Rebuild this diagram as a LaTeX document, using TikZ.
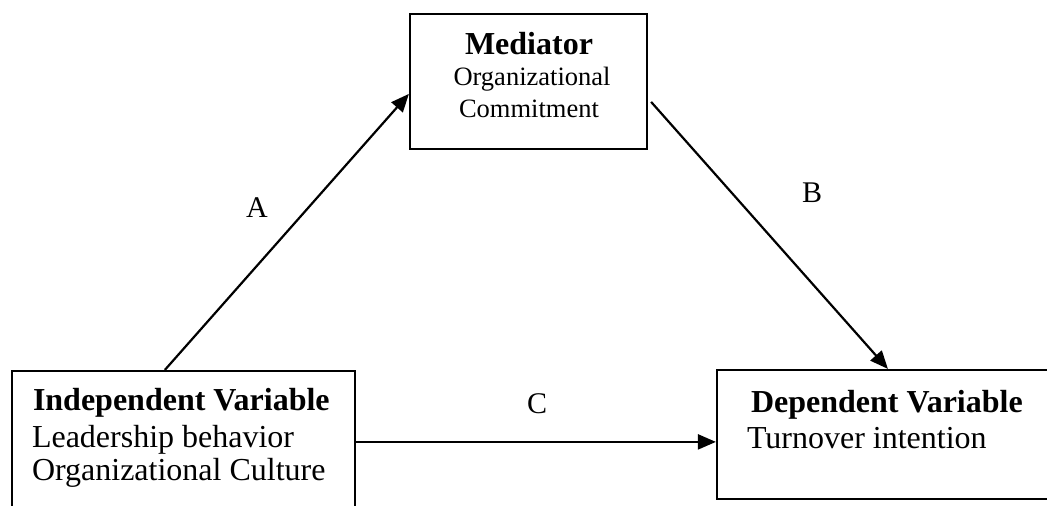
\documentclass[tikz,border=0pt]{standalone}
\usepackage{fontspec}
\setmainfont{Liberation Serif}
\usetikzlibrary{arrows.meta,calc}
\begin{document}
\begin{tikzpicture}[x=1pt,y=-1pt,
  box/.style={draw=black,line width=2.2pt,rectangle,inner sep=0pt},
  txt/.style={inner sep=0pt,outer sep=0pt},
  big/.style={font=\fontsize{32}{36}\selectfont},
  small/.style={font=\fontsize{26.5}{30}\selectfont},
  lab/.style={inner sep=0pt,font=\fontsize{30}{34}\selectfont},
  conn/.style={line width=2.2pt,-{Triangle[length=18pt,width=15pt]}}]
\useasboundingbox (0,0) rectangle (1047,506);
\path[fill=white] (0,0) rectangle (1047,506);
% boxes
\node[box,minimum width=237pt,minimum height=135pt] (med) at (528.5,81.5) {};
\node[box,minimum width=343pt,minimum height=160pt] (ind) at (183.5,451) {};
\node[box,minimum width=350pt,minimum height=129pt] (dep) at (892,434.5) {};
% texts
\node[txt,big,anchor=base] (medt) at (529,54) {\textbf{Mediator}};
\node[txt,small,anchor=base] (med1) at (532,85) {Organizational};
\node[txt,small,anchor=base] (med2) at (529,117) {Commitment};
\node[txt,big,anchor=base west] (indt) at (33,410) {\textbf{Independent Variable}};
\node[txt,big,anchor=base west] (ind1) at (32,447) {Leadership behavior};
\node[txt,big,anchor=base west] (ind2) at (32,480) {Organizational Culture};
\node[txt,big,anchor=base west] (dept) at (751,412) {\textbf{Dependent Variable}};
\node[txt,big,anchor=base west] (dep1) at (747,448) {Turnover intention};
% connectors
\coordinate (aS) at ($(ind.north west)+(154,0)$);
\coordinate (aE) at ($(med.north west)+(0,81)$);
\coordinate (bS) at ($(med.north east)+(3,89)$);
\coordinate (bE) at ($(dep.north west)+(172,0)$);
\coordinate (cS) at ($(ind.north east)+(0,72)$);
\coordinate (cE) at ($(dep.north west)+(0,73)$);
\draw[conn] (aS) -- (aE);
\draw[conn] (bS) -- (bE);
\draw[conn] (cS) -- (cE);
% labels
\node[lab,anchor=base] (la) at (257,217) {A};
\node[lab,anchor=base] (lb) at (812,202) {B};
\node[lab,anchor=base] (lc) at (537,413) {C};
\end{tikzpicture}
\end{document}
